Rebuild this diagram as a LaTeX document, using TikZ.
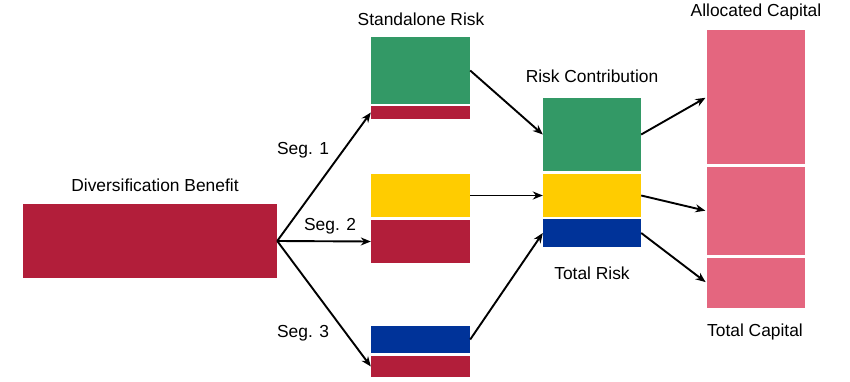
\documentclass[tikz,border=0pt]{standalone}
\usepackage{fontspec}
\setmainfont{Liberation Sans}
\usetikzlibrary{arrows.meta}
\definecolor{cgreen}{RGB}{51,153,102}
\definecolor{cred}{RGB}{178,30,58}
\definecolor{cyellow}{RGB}{255,204,0}
\definecolor{cblue}{RGB}{0,51,153}
\definecolor{cpink}{RGB}{228,102,127}
\begin{document}
\begin{tikzpicture}[x=1pt,y=-1pt,
  blk/.style={rectangle,inner sep=0pt,draw=none},
  lbl/.style={font=\fontsize{17.4}{20}\selectfont,inner sep=0pt,text=black},
  arr/.style={-{Stealth[length=10pt,width=8pt]},line width=1.9pt,black}]
\useasboundingbox (0,0) rectangle (850,382);
% boxes (center x, center y, width, height)
\newcommand{\bx}[6]{\node[blk,fill=#2,minimum width=#5pt,minimum height=#6pt] (#1) at (#3,#4) {};}
\bx{div}{cred}{150}{241}{254}{74}
\bx{saG}{cgreen}{420.5}{70.5}{99}{67}
\bx{saR1}{cred}{420.5}{112.5}{99}{13}
\bx{saY}{cyellow}{420.5}{195.5}{99}{43}
\bx{saR2}{cred}{420.5}{241.5}{99}{43}
\bx{saB}{cblue}{420.5}{339.5}{99}{27}
\bx{saR3}{cred}{420.5}{366.5}{99}{21}
\bx{rcG}{cgreen}{592}{134.5}{98}{73}
\bx{rcY}{cyellow}{592}{195.5}{98}{43}
\bx{rcB}{cblue}{592}{233}{98}{28}
\bx{ac1}{cpink}{756}{97}{98}{134}
\bx{ac2}{cpink}{756}{211}{98}{88}
\bx{ac3}{cpink}{756}{283}{98}{50}
% labels
\node[lbl] (tdiv) at (155,185) {Diversification Benefit};
\node[lbl] (tsa) at (421,19) {Standalone Risk};
\node[lbl] (trc) at (592,76) {Risk Contribution};
\node[lbl] (ttr) at (592,273) {Total Risk};
\node[lbl] (tac) at (756,12) {Allocated Capital};
\node[lbl] (ttc) at (755,332) {Total Capital};
\node[lbl] (s1) at (303,150) {Seg. 1};
\node[lbl] (s2) at (330,226) {Seg. 2};
\node[lbl] (s3) at (303,333) {Seg. 3};
% arrows
\draw[arr] (div.east) -- (saR1.west);
\draw[arr] (div.east) -- (saR2.west);
\draw[arr] (div.east) -- (saR3.west);
\draw[arr] (saG.east) -- (rcG.west);
\draw[arr] (saY.east) -- (rcY.west);
\draw[arr] (saB.east) -- (rcB.west);
\draw[arr,shorten >=1.5pt] (rcG.east) -- (ac1.west);
\draw[arr,shorten >=1.5pt] (rcY.east) -- (ac2.west);
\draw[arr,shorten >=1.5pt] (rcB.east) -- (ac3.west);
\end{tikzpicture}
\end{document}
